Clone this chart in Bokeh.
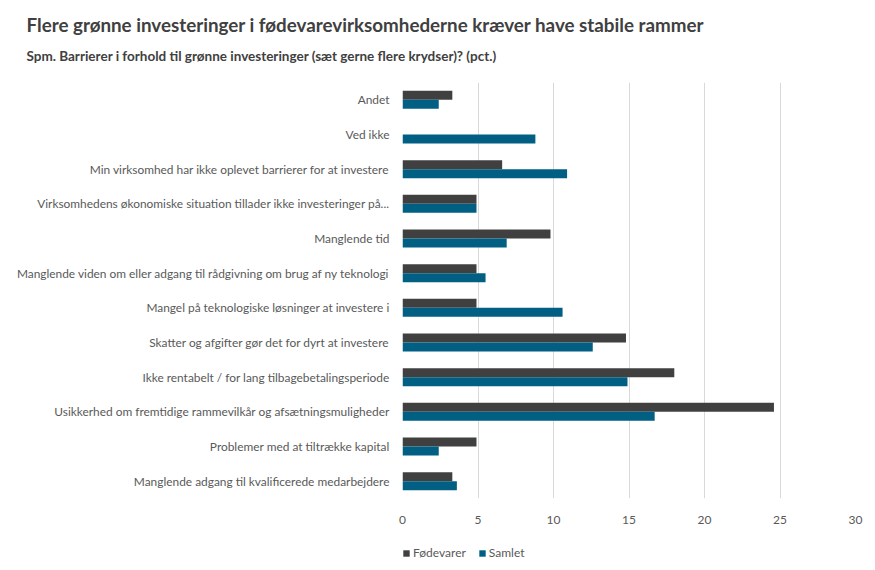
from bokeh.plotting import figure
from bokeh.models import (ColumnDataSource, Title, Legend, LegendItem, FactorRange,
                          FixedTicker, Range1d)
from bokeh.layouts import column
from bokeh.transform import dodge
from bokeh.embed import file_html
from bokeh.resources import INLINE

categories = [
    "Andet",
    "Ved ikke",
    "Min virksomhed har ikke oplevet barrierer for at investere",
    "Virksomhedens økonomiske situation tillader ikke investeringer på...",
    "Manglende tid",
    "Manglende viden om eller adgang til rådgivning om brug af ny teknologi",
    "Mangel på teknologiske løsninger at investere i",
    "Skatter og afgifter gør det for dyrt at investere",
    "Ikke rentabelt / for lang tilbagebetalingsperiode",
    "Usikkerhed om fremtidige rammevilkår og afsætningsmuligheder",
    "Problemer med at tiltrække kapital",
    "Manglende adgang til kvalificerede medarbejdere",
]
foedevarer = [3.3, 0.0, 6.6, 4.9, 9.8, 4.9, 4.9, 14.8, 18.0, 24.6, 4.9, 3.3]
samlet = [2.4, 8.8, 10.9, 4.9, 6.9, 5.5, 10.6, 12.6, 14.9, 16.7, 2.4, 3.6]
x_ticks = [0, 5, 10, 15, 20, 25, 30]
series_names = ["Fødevarer", "Samlet"]

title_text = "Flere grønne investeringer i fødevarevirksomhederne kræver have stabile rammer"
subtitle_text = "Spm. Barrierer i forhold til grønne investeringer (sæt gerne flere krydser)? (pct.)"

FONT = "Lato"
DARK = "#404040"
BLUE = "#005f83"

src = ColumnDataSource(dict(cat=categories, f=foedevarer, s=samlet))

p = figure(width=870, height=530, output_backend="svg", toolbar_location=None,
           y_range=FactorRange(*reversed(categories), range_padding=0),
           x_range=(0, 30),
           min_border_left=402, min_border_right=15, min_border_bottom=32, min_border_top=82)

r1 = p.hbar(y=dodge("cat", 0.13, range=p.y_range), right="f", left=0, height=0.26,
            source=src, fill_color=DARK, line_color=None)
r2 = p.hbar(y=dodge("cat", -0.13, range=p.y_range), right="s", left=0, height=0.26,
            source=src, fill_color=BLUE, line_color=None)

p.add_layout(Title(text=subtitle_text, text_font=FONT, text_font_size="13.5px",
                   text_font_style="bold", text_color="#404040", offset=-376,
                   standoff=37), "above")
p.add_layout(Title(text=title_text, text_font=FONT, text_font_size="18.8px",
                   text_font_style="bold", text_color="#404040", offset=-376,
                   standoff=-17), "above")

p.xaxis.ticker = FixedTicker(ticks=x_ticks)
p.xaxis.axis_line_color = None
p.xaxis.major_tick_line_color = None
p.xaxis.minor_tick_line_color = None
p.xaxis.major_label_text_font = FONT
p.xaxis.major_label_text_font_size = "12px"
p.xaxis.major_label_text_color = "#595959"
p.xaxis.major_label_standoff = 11

p.yaxis.axis_line_color = None
p.yaxis.major_tick_line_color = None
p.yaxis.minor_tick_line_color = None
p.yaxis.major_label_text_font = FONT
p.yaxis.major_label_text_font_size = "11.9px"
p.yaxis.major_label_text_color = "#595959"
p.yaxis.major_label_standoff = 7

p.ygrid.grid_line_color = None
p.xgrid.grid_line_color = "#d9d9d9"
p.xgrid.ticker = FixedTicker(ticks=x_ticks)
p.outline_line_color = None

# legend strip (separate figure so the legend is not clipped by the plot frame)
lg = figure(width=870, height=35, output_backend="svg", toolbar_location=None,
            x_range=Range1d(0, 1), y_range=Range1d(0, 1),
            min_border_left=0, min_border_right=0, min_border_top=0, min_border_bottom=0)
lg.axis.visible = False
lg.grid.grid_line_color = None
lg.outline_line_color = None
offscreen = ColumnDataSource(dict(y=[-50], left=[50], right=[51]))
d1 = lg.hbar(y="y", left="left", right="right", height=0.1, source=offscreen,
             fill_color=DARK, line_color=None)
d2 = lg.hbar(y="y", left="left", right="right", height=0.1, source=offscreen,
             fill_color=BLUE, line_color=None)

legend = Legend(items=[LegendItem(label=series_names[0], renderers=[d1]),
                       LegendItem(label=series_names[1], renderers=[d2])],
                orientation="horizontal", location=(0, 5),
                label_text_font=FONT, label_text_font_size="12px",
                label_text_color="#595959", glyph_width=8, glyph_height=8,
                label_standoff=3, spacing=12, padding=2, margin=0,
                border_line_color=None, background_fill_alpha=0)
lg.add_layout(legend, "center")

layout = column(p, lg, spacing=0)
open("out.html", "w").write(file_html(layout, INLINE))
